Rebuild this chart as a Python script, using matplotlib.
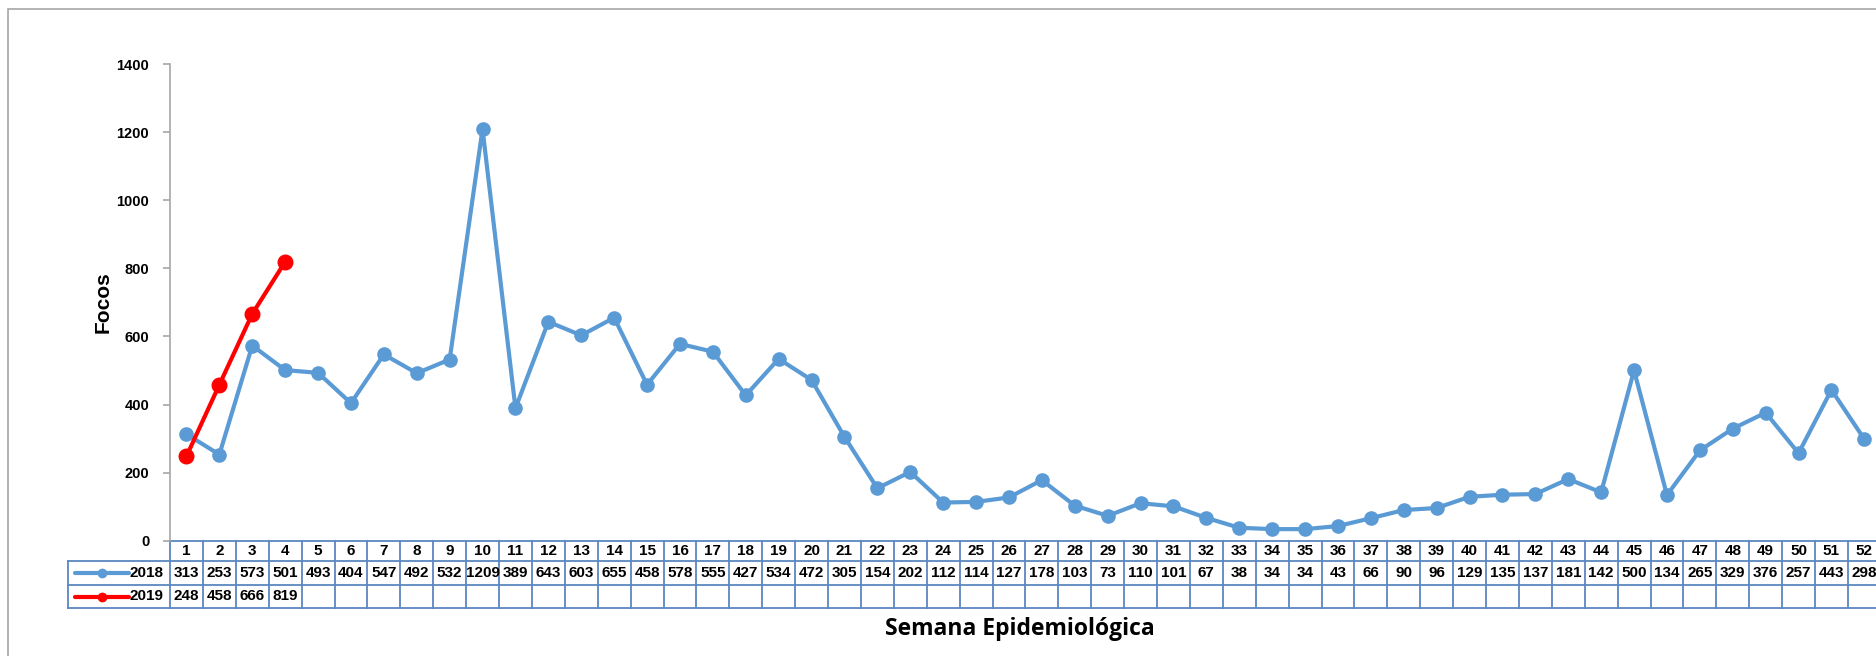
import matplotlib.pyplot as plt
import matplotlib.transforms as mtransforms
from matplotlib.patches import Rectangle

# Focos por semana epidemiologica
semanas = list(range(1, 53))
focos_2018 = [313, 253, 573, 501, 493, 404, 547, 492, 532, 1209,
              389, 643, 603, 655, 458, 578, 555, 427, 534, 472,
              305, 154, 202, 112, 114, 127, 178, 103, 73, 110,
              101, 67, 38, 34, 34, 43, 66, 90, 96, 129,
              135, 137, 181, 142, 500, 134, 265, 329, 376, 257,
              443, 298]
focos_2019 = [248, 458, 666, 819]
series = [("2018", focos_2018, "#5b9bd5"), ("2019", focos_2019, "#ff0000")]
y_ticks = [0, 200, 400, 600, 800, 1000, 1200, 1400]

W, H = 1876, 656
fig = plt.figure(figsize=(W / 100, H / 100), dpi=100)

# axes placed in pixel units (left, top of plot area)
left, top, bottom, col_w = 170, 64, 540.7, 32.9
right = left + 52 * col_w
ax = fig.add_axes([left / W, (H - bottom) / H, (right - left) / W, (bottom - top) / H])

ax.plot(semanas, focos_2018, color="#5b9bd5", lw=3, marker="o", ms=9.5, zorder=3, clip_on=False)
ax.plot(semanas[:len(focos_2019)], focos_2019, color="#ff0000", lw=3, marker="o", ms=10.5, zorder=4, clip_on=False)

ax.set_xlim(0.5, 52.5)
ax.set_ylim(0, 1400)
ax.set_yticks(y_ticks)
ax.set_yticklabels([str(t) for t in y_ticks], fontfamily="Liberation Sans", fontweight="bold", fontsize=10.5)
ax.set_xticks([])
for s in ["top", "right", "bottom"]:
    ax.spines[s].set_visible(False)
ax.spines["left"].set_color("#a6a6a6")
ax.spines["left"].set_linewidth(1.2)
ax.tick_params(axis="y", direction="out", length=5, width=1.2, color="#a6a6a6", pad=10)
fig.text(103 / W, 1 - 302 / H, "Focos", rotation=90, fontfamily="Liberation Sans",
         fontweight="bold", fontsize=15, ha="center", va="center")

# ---------------- data table below the axis ----------------
tr = mtransforms.blended_transform_factory(ax.transData, ax.transAxes)
line_c = "#5b87c2"
narrow = ["Liberation Sans Narrow", "Liberation Sans"]
px = (bottom - top)
y_head = -(560.7 - bottom) / px
y_r1 = -(585.0 - bottom) / px
y_r2 = -(608.0 - bottom) / px
x_left = 0.5 + (68 - left) / col_w
x_end = 52.5

kw = dict(transform=tr, clip_on=False, color=line_c, lw=1.3)
ax.plot([0.5, x_end], [0, 0], **kw)
for yy in [y_head, y_r1, y_r2]:
    ax.plot([x_left, x_end], [yy, yy], **kw)
ax.plot([x_left, x_left], [y_head, y_r2], **kw)
for k in range(53):
    ax.plot([0.5 + k, 0.5 + k], [0, y_r2], **kw)

tkw = dict(transform=tr, fontfamily=narrow, fontweight="bold", fontsize=11, ha="center", va="center")
for s in semanas:
    ax.text(s, (0 + y_head) / 2, str(s), **tkw)
rows = [((y_head + y_r1) / 2), ((y_r1 + y_r2) / 2)]
for (name, vals, col), yc in zip(series, rows):
    for s, v in zip(semanas, vals):
        ax.text(s, yc, str(v), **tkw)
    lx0 = 0.5 + (75 - left) / col_w
    lx1 = 0.5 + (129 - left) / col_w
    ax.plot([lx0, lx1], [yc, yc], transform=tr, clip_on=False, color=col, lw=3, solid_capstyle="round")
    ax.plot([(lx0 + lx1) / 2], [yc], transform=tr, clip_on=False, color=col, marker="o", ms=6)
    ax.text(0.5 + (163 - left) / col_w, yc, name, transform=tr, fontfamily=narrow,
            fontweight="bold", fontsize=11, ha="right", va="center")

fig.text(1020 / W, 1 - 629 / H, "Semana Epidemiológica", fontfamily="Open Sans",
         fontweight="bold", fontsize=16.5, ha="center", va="center")

# chart border
fig.add_artist(Rectangle((8 / W, -0.1), 1.2, (H - 9) / H + 0.1, transform=fig.transFigure,
                         fill=False, ec="#a6a6a6", lw=1.2))

fig.savefig("out.png", dpi=100)
